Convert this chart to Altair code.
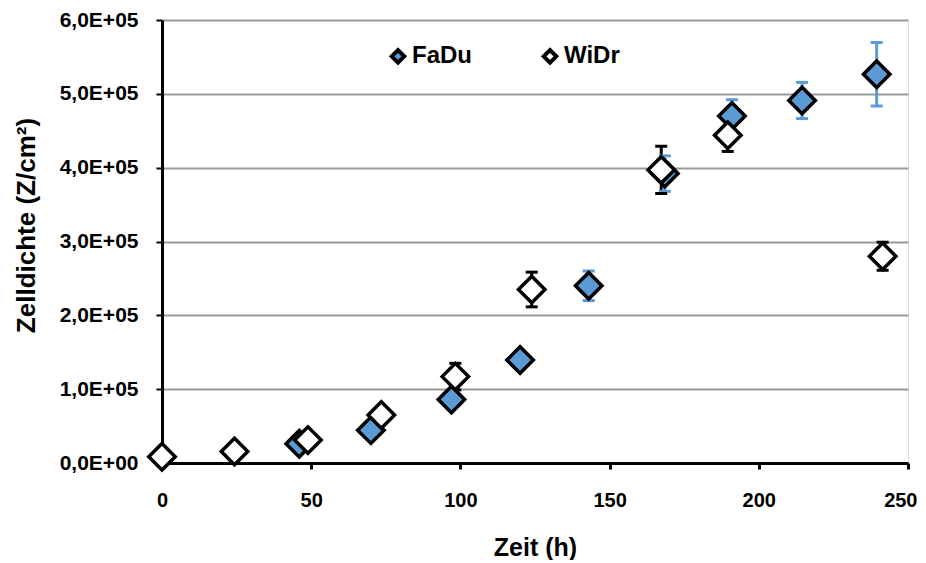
import altair as alt
import pandas as pd

# Data
fadu_t = [46, 70, 97, 120, 143, 168.5, 191, 214.5, 239.5]
fadu_y = [26000, 44500, 86000, 139500, 240000, 392000, 470000, 491000, 526500]
fadu_err = [3000, 4000, 6000, 8000, 20000, 24000, 22000, 24500, 43000]

widr_t = [0, 24.3, 48.9, 73.5, 98.3, 123.9, 167.3, 189.6, 241.5]
widr_y = [8500, 15500, 31000, 65000, 117000, 235000, 397000, 444000, 280000]
widr_err = [1000, 2000, 3000, 5000, 18000, 23500, 32000, 22000, 19000]

series = ["FaDu", "WiDr"]
fill_colors = ["#5B9BD5", "#FFFFFF"]
err_colors = ["#5B9BD5", "#000000"]

x_ticks = [0, 50, 100, 150, 200, 250]
y_ticks = [0, 100000, 200000, 300000, 400000, 500000, 600000]
y_tick_labels = ["0,0E+00", "1,0E+05", "2,0E+05", "3,0E+05", "4,0E+05", "5,0E+05", "6,0E+05"]

rows = []
for t, y, e in zip(fadu_t, fadu_y, fadu_err):
    rows.append({"Serie": "FaDu", "ErrSerie": "FaDu", "t": t, "y": y, "lo": y - e, "hi": y + e})
for t, y, e in zip(widr_t, widr_y, widr_err):
    rows.append({"Serie": "WiDr", "ErrSerie": "WiDr", "t": t, "y": y, "lo": y - e, "hi": y + e})
df = pd.DataFrame(rows)

FONT = "Liberation Sans"
label_expr = "[" + ",".join("'%s'" % s for s in y_tick_labels) + "][round(datum.value/100000)]"

x_enc = alt.X(
    "t:Q",
    scale=alt.Scale(domain=[0, 250], nice=False, zero=False),
    axis=alt.Axis(
        values=x_ticks, grid=False, title="Zeit (h)", labelFlush=False,
        labelAlign=alt.condition("datum.value == 250", alt.value("right"), alt.value("center")),
        labelOffset=alt.condition("datum.value == 250", alt.value(9), alt.value(0)),
        domainColor="black", domainWidth=3,
        tickColor="black", tickWidth=3, tickSize=6,
        labelFont=FONT, labelFontSize=20, labelFontWeight="bold", labelColor="black",
        labelPadding=21,
        titleFont=FONT, titleFontSize=25, titleFontWeight="bold", titleColor="black",
        titleX=373, titleY=84, titleBaseline="middle",
    ),
)

y_axis = alt.Axis(
    values=y_ticks, labelExpr=label_expr, grid=True, labelFlush=False,
    gridColor="#999999", gridWidth=2,
    domainColor="black", domainWidth=3,
    tickColor="black", tickWidth=2, tickSize=6,
    labelFont=FONT, labelFontSize=21, labelFontWeight="bold", labelColor="black",
    labelPadding=18,
    title="Zelldichte (Z/cm²)",
    titleFont=FONT, titleFontSize=26, titleFontWeight="bold", titleColor="black",
    titleX=-136, titleY=205, titleBaseline="middle", titleAngle=-90,
)
y_scale = alt.Scale(domain=[0, 600000], nice=False)

base = alt.Chart(df)
err_color = alt.Color("ErrSerie:N", scale=alt.Scale(domain=series, range=err_colors), legend=None)

err_rule = base.mark_rule(strokeWidth=3).encode(
    x=x_enc,
    y=alt.Y("lo:Q", scale=y_scale, axis=y_axis),
    y2="hi:Q",
    color=err_color,
)
cap_lo = base.mark_tick(orient="horizontal", size=12, thickness=3, opacity=1).encode(
    x="t:Q",
    y=alt.Y("lo:Q", scale=y_scale),
    color=err_color,
)
cap_hi = base.mark_tick(orient="horizontal", size=12, thickness=3, opacity=1).encode(
    x="t:Q",
    y=alt.Y("hi:Q", scale=y_scale),
    color=err_color,
)

points = base.mark_point(
    shape="diamond", size=700, filled=True, stroke="black", strokeWidth=3.5, opacity=1
).encode(
    x="t:Q",
    y=alt.Y("y:Q", scale=y_scale),
    fill=alt.Fill(
        "Serie:N",
        scale=alt.Scale(domain=series, range=fill_colors),
        legend=alt.Legend(
            title=None, orient="none", direction="horizontal",
            legendX=224, legendY=24, padding=0,
            symbolType="diamond", symbolSize=160,
            symbolStrokeColor="black", symbolStrokeWidth=4, symbolOpacity=1,
            labelFont=FONT, labelFontSize=24, labelFontWeight="bold", labelColor="black",
            labelOffset=2, columnPadding=63,
        ),
    ),
)

chart = alt.layer(err_rule, cap_lo, cap_hi, points).resolve_scale(
    color="independent", fill="independent"
).resolve_legend(color="independent", fill="independent").properties(
    width=746, height=443,
    autosize=alt.AutoSizeParams(type="none"),
    padding={"left": 154, "top": 12, "right": 10, "bottom": 97},
).configure_view(stroke=None).configure(background="white")

chart.save("out.html", embed_options={"renderer": "svg", "actions": False})
